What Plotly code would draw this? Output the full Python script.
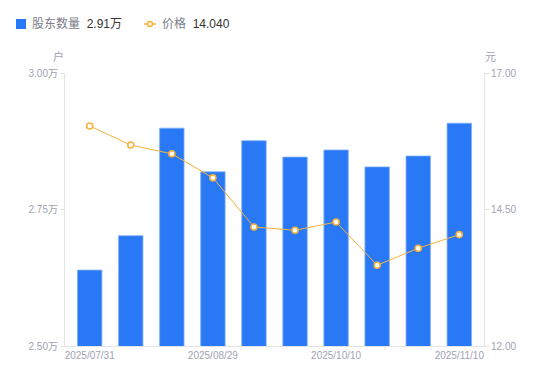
import plotly.graph_objects as go

dates = ["2025/07/31", "2025/08/08", "2025/08/20", "2025/08/29", "2025/09/10",
         "2025/09/30", "2025/10/10", "2025/10/20", "2025/10/31", "2025/11/10"]
holders = [2.639, 2.702, 2.899, 2.819, 2.876, 2.846, 2.859, 2.828, 2.848, 2.908]  # 万户
prices = [16.03, 15.68, 15.52, 15.08, 14.18, 14.12, 14.27, 13.48, 13.79, 14.04]
tick_dates = ["2025/07/31", "2025/08/29", "2025/10/10", "2025/11/10"]
left_ticks = [2.50, 2.75, 3.00]
left_tick_text = ["2.50万", "2.75万", "3.00万"]
right_ticks = [12.0, 14.5, 17.0]
right_tick_text = ["12.00", "14.50", "17.00"]

BLUE = "#2979f6"
ORANGE = "#f7b13a"
GRAY = "#a0a3b1"
AXIS = "#e3e4e8"
FONT = "Liberation Sans, Noto Sans CJK SC, sans-serif"

fig = go.Figure()
fig.add_trace(go.Bar(
    x=dates, y=holders, yaxis="y",
    marker=dict(color=BLUE, line=dict(color="#7fb0fa", width=0.8)),
    name="股东数量",
    showlegend=False,
))
fig.add_trace(go.Scatter(
    x=dates, y=prices, yaxis="y2", mode="lines+markers",
    line=dict(color=ORANGE, width=1),
    marker=dict(size=6, color="white", line=dict(color=ORANGE, width=1.6)),
    name="价格",
    showlegend=False,
))

fig.update_layout(
    width=550, height=381,
    margin=dict(l=65, r=66, t=73, b=35, autoexpand=False),
    paper_bgcolor="white", plot_bgcolor="white",
    font=dict(family=FONT, size=10, color=GRAY),
    bargap=0.405,
    xaxis=dict(
        type="category", categoryorder="array", categoryarray=dates,
        tickmode="array", tickvals=tick_dates, ticktext=tick_dates,
        showgrid=False, showline=True, linecolor=AXIS, linewidth=1,
        ticks="", tickfont=dict(size=10, color=GRAY), zeroline=False,
        automargin=False,
    ),
    yaxis=dict(
        range=[2.50, 3.00], tickmode="array", tickvals=left_ticks, ticktext=left_tick_text,
        showgrid=False, showline=True, linecolor=AXIS, linewidth=1,
        ticks="outside", ticklen=4, tickcolor=AXIS, tickfont=dict(size=10, color=GRAY),
        zeroline=False, automargin=False,
    ),
    yaxis2=dict(
        range=[12.0, 17.0], overlaying="y", side="right",
        tickmode="array", tickvals=right_ticks, ticktext=right_tick_text,
        showgrid=False, showline=True, linecolor=AXIS, linewidth=1,
        ticks="outside", ticklen=4, tickcolor=AXIS, tickfont=dict(size=10, color=GRAY),
        zeroline=False, automargin=False,
    ),
)

# axis unit titles
fig.add_annotation(text="户", xref="paper", yref="paper", x=-0.015, y=1.0, yshift=8,
                   showarrow=False, font=dict(size=11, color=GRAY), xanchor="center", yanchor="bottom")
fig.add_annotation(text="元", xref="paper", yref="paper", x=1.015, y=1.0, yshift=8,
                   showarrow=False, font=dict(size=11, color=GRAY), xanchor="center", yanchor="bottom")

# legend (custom)
fig.add_shape(type="rect", xref="paper", yref="paper",
              x0=(16 - 65) / 419, x1=(26 - 65) / 419,
              y0=(346 - 29) / 273, y1=(346 - 19) / 273,
              fillcolor=BLUE, line=dict(width=0))
fig.add_annotation(text="股东数量 <span style='color:#333333'> 2.91万</span>",
                   xref="paper", yref="paper", x=(30 - 65) / 419, y=(346 - 24) / 273,
                   showarrow=False, xanchor="left", yanchor="middle",
                   font=dict(size=12, color="#7a7d89"))
fig.add_shape(type="line", xref="paper", yref="paper",
              x0=(144 - 65) / 419, x1=(156 - 65) / 419,
              y0=(346 - 24) / 273, y1=(346 - 24) / 273,
              line=dict(color=ORANGE, width=1.5))
fig.add_shape(type="circle", xref="paper", yref="paper",
              x0=(147.5 - 65) / 419, x1=(152.5 - 65) / 419,
              y0=(346 - 26.5) / 273, y1=(346 - 21.5) / 273,
              fillcolor="white", line=dict(color=ORANGE, width=1.6))
fig.add_annotation(text="价格 <span style='color:#333333'> 14.040</span>",
                   xref="paper", yref="paper", x=(160 - 65) / 419, y=(346 - 24) / 273,
                   showarrow=False, xanchor="left", yanchor="middle",
                   font=dict(size=12, color="#7a7d89"))

fig.write_html("out.html", config={"displayModeBar": False},
               post_script="document.body.style.margin='0';")
